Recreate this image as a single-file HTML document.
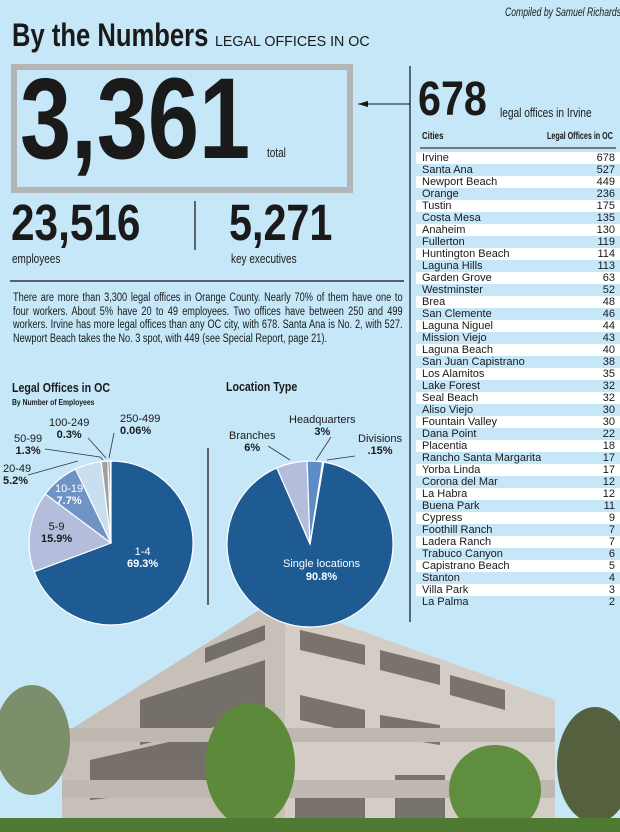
<!DOCTYPE html>
<html><head><meta charset="utf-8"><style>
body{margin:0;width:620px;height:832px;overflow:hidden;background:#c5e7f8;position:relative;font-family:"Liberation Sans",sans-serif;color:#1a1a1a}
.a{position:absolute;white-space:nowrap;transform-origin:0 0}
.c{font-weight:bold}
.p div{width:487px;text-align:justify;text-align-last:justify;height:13.7px}
table{position:absolute;left:416px;top:152px;width:204px;border-collapse:collapse;font-size:11px}
td{height:12px;padding:0 5px 0 6px;line-height:12px}
td+td{text-align:right}
tr:nth-child(odd){background:#fff}
</style></head><body>
<svg class="a" style="left:0;top:0" width="620" height="832">
<polygon points="275,600 555,700 555,832 62,832 62,735" fill="#d3cdc5"/>
<polygon points="275,600 285,600 285,832 62,832 62,735" fill="#c6c0b8"/>
<g fill="#5b5450" opacity=".75">
<polygon points="205,648 265,625 265,640 205,663"/><polygon points="300,630 365,645 365,665 300,650"/><polygon points="380,650 440,665 440,685 380,670"/><polygon points="450,675 505,690 505,710 450,695"/>
<polygon points="140,700 265,660 265,715 140,745"/><polygon points="300,695 365,710 365,735 300,720"/><polygon points="380,715 440,725 440,745 380,735"/>
<polygon points="90,760 265,720 265,780 90,800"/><polygon points="295,780 365,780 365,832 295,832"/>
<polygon points="395,775 445,775 445,832 395,832"/></g>
<g fill="#bfb8b0"><rect x="62" y="780" width="493" height="18"/><rect x="62" y="728" width="493" height="14"/></g>
<ellipse cx="250" cy="765" rx="45" ry="62" fill="#5d8a3a"/>
<ellipse cx="495" cy="790" rx="46" ry="45" fill="#5f8f3e"/>
<ellipse cx="32" cy="740" rx="38" ry="55" fill="#7c8f6a"/>
<ellipse cx="595" cy="765" rx="38" ry="58" fill="#55603e"/>
<rect x="0" y="818" width="620" height="14" fill="#4f7a34"/>
<line x1="410" y1="66" x2="410" y2="622" stroke="#111" stroke-width="1.2"/>
<line x1="358" y1="104" x2="410" y2="104" stroke="#111" stroke-width="1"/>
<polygon points="358,104 368,101 368,107" fill="#111"/>
<line x1="195" y1="201" x2="195" y2="250" stroke="#111" stroke-width="1.2"/>
<line x1="10" y1="281" x2="404" y2="281" stroke="#111" stroke-width="1.2"/>
<line x1="208" y1="448" x2="208" y2="605" stroke="#111" stroke-width="1.2"/>
<line x1="420" y1="148" x2="616" y2="148" stroke="#555" stroke-width="1.5"/>
<rect x="14" y="67" width="336" height="123" fill="none" stroke="#b5b5b5" stroke-width="6"/>
<g stroke="#fff" stroke-width="1.2">
<path d="M111,543 L111,461 A82,82 0 1,1 34.2,571.7Z" fill="#1e5b93"/>
<path d="M111,543 L34.2,571.7 A82,82 0 0,1 45.3,494Z" fill="#b4bedc"/>
<path d="M111,543 L45.3,494 A82,82 0 0,1 75.6,469.1Z" fill="#6f93c4"/>
<path d="M111,543 L75.6,469.1 A82,82 0 0,1 101.2,461.6Z" fill="#c8dff0"/>
<path d="M111,543 L101.2,461.6 A82,82 0 0,1 107.9,461.1Z" fill="#a0a0a0"/>
<path d="M111,543 L107.9,461.1 A82,82 0 0,1 110,461Z" fill="#666"/>
</g>
<g stroke="#333" stroke-width="0.8" fill="none">
<polyline points="28,475 78,461"/><polyline points="45,449 100,457 103,460"/><polyline points="88,438 106,458"/><polyline points="114,433 109,458"/>
</g>
<g stroke="#fff" stroke-width="1.2">
<path d="M310,544 L323.7,462.1 A83,83 0 1,1 276.8,467.9Z" fill="#1e5b93"/>
<path d="M310,544 L276.8,467.9 A83,83 0 0,1 307.1,461.1Z" fill="#b4bedc"/>
<path d="M310,544 L307.1,461.1 A83,83 0 0,1 322.7,462Z" fill="#5e8cc6"/>
<path d="M310,544 L322.7,462 A83,83 0 0,1 323.7,462.1Z" fill="#c8dff0"/>
</g>
<g stroke="#333" stroke-width="0.8" fill="none"><polyline points="268,446 290,460"/><polyline points="331,437 316,460"/><polyline points="355,456 327,460"/></g>
</svg>
<div class="a" style="left:505px;top:7px;font-size:11.5px;font-style:italic;transform:scaleX(.75)">Compiled by Samuel Richards</div>
<div class="a c" style="left:12px;top:17px;font-size:32px;transform:scaleX(.8)">By the Numbers</div>
<div class="a" style="left:215px;top:33px;font-size:15px;transform:scaleX(.95)">LEGAL OFFICES IN OC</div>
<div class="a c" style="left:20px;top:54px;font-size:115px;line-height:130px;transform:scaleX(.8)">3,361</div>
<div class="a" style="left:267px;top:146px;font-size:12.5px;transform:scaleX(.8)">total</div>
<div class="a c" style="left:11px;top:194px;font-size:51px;line-height:58px;transform:scaleX(.83)">23,516</div>
<div class="a" style="left:12px;top:252px;font-size:12.5px;transform:scaleX(.8)">employees</div>
<div class="a c" style="left:229px;top:194px;font-size:51px;line-height:58px;transform:scaleX(.81)">5,271</div>
<div class="a" style="left:231px;top:252px;font-size:12.5px;transform:scaleX(.8)">key executives</div>
<div class="a c" style="left:418px;top:73px;font-size:48px;line-height:54px;transform:scaleX(.86)">678</div>
<div class="a" style="left:500px;top:105px;font-size:13px;transform:scaleX(.78)">legal offices in Irvine</div>
<div class="a c" style="left:422px;top:130px;font-size:10.5px;transform:scaleX(.75)">Cities</div>
<div class="a c" style="left:547px;top:130px;font-size:10.5px;transform:scaleX(.68)">Legal Offices in OC</div>
<div class="a p" style="left:13px;top:292px;font-size:11.5px;line-height:13.7px;transform:scaleX(.8)">
<div>There are more than 3,300 legal offices in Orange County. Nearly 70% of them have one to</div>
<div>four workers. About 5% have 20 to 49 employees. Two offices have between 250 and 499</div>
<div>workers. Irvine has more legal offices than any OC city, with 678. Santa Ana is No. 2, with 527.</div>
<div style="text-align-last:left">Newport Beach takes the No. 3 spot, with 449 (see Special Report, page 21).</div>
</div>
<div class="a c" style="left:12px;top:381px;font-size:12.5px;transform:scaleX(.85)">Legal Offices in OC</div>
<div class="a c" style="left:12px;top:398px;font-size:8px;transform:scaleX(.85)">By Number of Employees</div>
<div class="a c" style="left:226px;top:380px;font-size:12.5px;transform:scaleX(.85)">Location Type</div>
<div class="a" style="left:49px;top:417px;font-size:11px;line-height:12px;text-align:center">100-249<br><b>0.3%</b></div>
<div class="a" style="left:120px;top:413px;font-size:11px;line-height:12px">250-499<br><b>0.06%</b></div>
<div class="a" style="left:14px;top:433px;font-size:11px;line-height:12px;text-align:center">50-99<br><b>1.3%</b></div>
<div class="a" style="left:3px;top:463px;font-size:11px;line-height:12px">20-49<br><b>5.2%</b></div>
<div class="a" style="left:55px;top:483px;font-size:11px;line-height:12px;color:#fff;text-align:center">10-19<br><b>7.7%</b></div>
<div class="a" style="left:41px;top:521px;font-size:11px;line-height:12px;text-align:center">5-9<br><b>15.9%</b></div>
<div class="a" style="left:127px;top:546px;font-size:11px;line-height:12px;color:#fff;text-align:center">1-4<br><b>69.3%</b></div>
<div class="a" style="left:229px;top:430px;font-size:11px;line-height:12px;text-align:center">Branches<br><b>6%</b></div>
<div class="a" style="left:289px;top:414px;font-size:11px;line-height:12px;text-align:center">Headquarters<br><b>3%</b></div>
<div class="a" style="left:358px;top:433px;font-size:11px;line-height:12px;text-align:center">Divisions<br><b>.15%</b></div>
<div class="a" style="left:283px;top:558px;font-size:11px;line-height:13px;color:#fff;text-align:center">Single locations<br><b>90.8%</b></div>
<table>
<tr><td>Irvine</td><td>678</td></tr><tr><td>Santa Ana</td><td>527</td></tr><tr><td>Newport Beach</td><td>449</td></tr><tr><td>Orange</td><td>236</td></tr><tr><td>Tustin</td><td>175</td></tr><tr><td>Costa Mesa</td><td>135</td></tr><tr><td>Anaheim</td><td>130</td></tr><tr><td>Fullerton</td><td>119</td></tr><tr><td>Huntington Beach</td><td>114</td></tr><tr><td>Laguna Hills</td><td>113</td></tr><tr><td>Garden Grove</td><td>63</td></tr><tr><td>Westminster</td><td>52</td></tr><tr><td>Brea</td><td>48</td></tr><tr><td>San Clemente</td><td>46</td></tr><tr><td>Laguna Niguel</td><td>44</td></tr><tr><td>Mission Viejo</td><td>43</td></tr><tr><td>Laguna Beach</td><td>40</td></tr><tr><td>San Juan Capistrano</td><td>38</td></tr><tr><td>Los Alamitos</td><td>35</td></tr><tr><td>Lake Forest</td><td>32</td></tr><tr><td>Seal Beach</td><td>32</td></tr><tr><td>Aliso Viejo</td><td>30</td></tr><tr><td>Fountain Valley</td><td>30</td></tr><tr><td>Dana Point</td><td>22</td></tr><tr><td>Placentia</td><td>18</td></tr><tr><td>Rancho Santa Margarita</td><td>17</td></tr><tr><td>Yorba Linda</td><td>17</td></tr><tr><td>Corona del Mar</td><td>12</td></tr><tr><td>La Habra</td><td>12</td></tr><tr><td>Buena Park</td><td>11</td></tr><tr><td>Cypress</td><td>9</td></tr><tr><td>Foothill Ranch</td><td>7</td></tr><tr><td>Ladera Ranch</td><td>7</td></tr><tr><td>Trabuco Canyon</td><td>6</td></tr><tr><td>Capistrano Beach</td><td>5</td></tr><tr><td>Stanton</td><td>4</td></tr><tr><td>Villa Park</td><td>3</td></tr><tr><td>La Palma</td><td>2</td></tr>
</table>
</body></html>
